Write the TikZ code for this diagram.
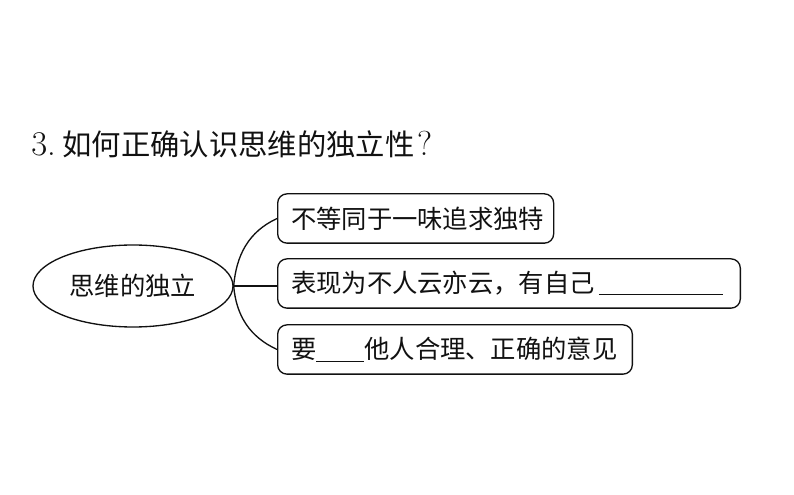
\documentclass[tikz,border=0pt]{standalone}
\usepackage{fontspec}
\usepackage{tikz}
\usetikzlibrary{positioning, shapes.geometric}
\newfontfamily\cjk{Noto Sans CJK SC}
\definecolor{InkBlack}{HTML}{111111}

\begin{document}
\begin{tikzpicture}[x=0.75pt, y=-0.75pt, color=InkBlack,
    leafbox/.style={draw, line width=1pt, rounded corners=7pt, anchor=west, align=left,
      inner xsep=10pt, inner ysep=0pt, minimum height=37pt, font=\cjk\fontsize{19}{19}\selectfont},
    branch/.style={line width=1pt}]
    \useasboundingbox (0,0) rectangle (794,495);

    % Title
    \node[anchor=west, inner sep=0pt, font=\fontsize{26}{26}\selectfont] (title) at (31,144)
        {3.\hspace{5pt}{\cjk\fontsize{22}{22}\selectfont 如何正确认识思维的独立性}\hspace{2pt}?};

    % Root ellipse
    \node[draw, ellipse, line width=1pt, minimum width=150pt, minimum height=61.5pt,
        font=\cjk\fontsize{19}{19}\selectfont] (root) at (133,286) {思维的独立};

    % Leaf boxes
    \node[leafbox, text width=187pt] (b1) at (277,218.5) {不等同于一味追求独特};
    \node[leafbox, text width=327pt] (b2) at (277,283.5) {表现为不人云亦云，有自己\hspace{3pt}\underline{\hspace{93pt}}};
    \node[leafbox, text width=246pt] (b3) at (277,349.5) {要\underline{\hspace{36pt}}他人合理、正确的意见};

    % Branches
    \draw[branch] (root.east) to[out=85, in=205] (b1.west);
    \draw[branch] (root.east) -- (root.east -| b2.west);
    \draw[branch] (root.east) to[out=-85, in=155] (b3.west);
\end{tikzpicture}
\end{document}
